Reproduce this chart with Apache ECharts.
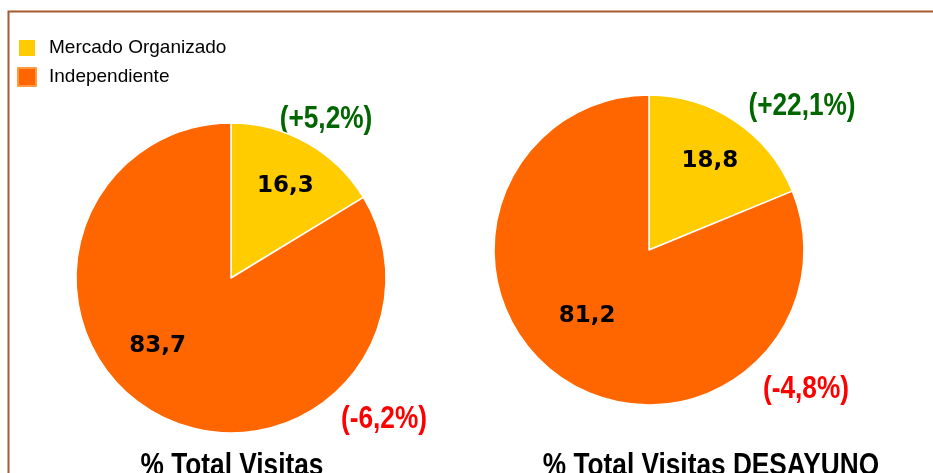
<!DOCTYPE html>
<html>
<head>
<meta charset="utf-8">
<script src="https://cdn.jsdelivr.net/npm/echarts@6/dist/echarts.min.js"></script>
<style>
  html, body { margin: 0; padding: 0; background: #fff; }
  #chart { width: 933px; height: 473px; }
</style>
</head>
<body>
<div id="chart"></div>
<script>
// datos
const categories = ['Mercado Organizado', 'Independiente'];
const totalShares = [16.3, 83.7];
const desayunoShares = [18.8, 81.2];
const totalChanges = [5.2, -6.2];
const desayunoChanges = [22.1, -4.8];
const pieTitles = ['% Total Visitas', '% Total Visitas DESAYUNO'];

const colors = ['#FFCC00', '#FF6600'];
const sans = '"Liberation Sans", Arial, sans-serif';
const chart = echarts.init(document.getElementById('chart'), null, { renderer: 'canvas' });

function fmt(v) {
  return v.toFixed(1).replace('.', ',');
}
function fmtChange(v) {
  return '(' + (v > 0 ? '+' : '') + fmt(v) + '%)';
}

// offsets de las etiquetas internas (posicion dentro de la porcion)
const labelOffsets = [
  [[15, -22], [-34, -2]],
  [[16, -22], [-17, -1]]
];

function pieSeries(values, center, idx) {
  return {
    type: 'pie',
    center: center,
    radius: 155,
    startAngle: 90,
    clockwise: true,
    silent: true,
    itemStyle: { borderColor: '#fff', borderWidth: 1.5 },
    label: {
      show: true,
      position: 'inside',
      formatter: p => fmt(p.value),
      color: '#000',
      fontFamily: 'DejaVu Sans',
      fontWeight: 'bold',
      fontSize: 23
    },
    labelLine: { show: false },
    emphasis: { disabled: true },
    data: categories.map((name, i) => ({
      name: name,
      value: values[i],
      itemStyle: { color: colors[i] },
      label: { offset: labelOffsets[idx][i] }
    }))
  };
}

// texto estrecho (tipo Arial Narrow) escalando en horizontal
function narrowText(text, x, y, color, vAlign) {
  return {
    type: 'text',
    x: x,
    y: y,
    scaleX: 0.82,
    silent: true,
    style: {
      text: text,
      fill: color,
      font: 'bold 32px ' + sans,
      textAlign: 'center',
      textVerticalAlign: vAlign
    }
  };
}

function changeText(v, x, y) {
  return narrowText(fmtChange(v), x, y, v > 0 ? '#006600' : '#FF0000', 'middle');
}

const option = {
  animation: false,
  backgroundColor: '#fff',
  color: colors,
  legend: {
    orient: 'vertical',
    left: 17,
    top: 38,
    itemWidth: 18,
    itemHeight: 18,
    itemGap: 9,
    icon: 'rect',
    selectedMode: false,
    padding: 0,
    textStyle: {
      fontFamily: sans,
      fontSize: 19,
      color: '#000',
      lineHeight: 18,
      padding: [0, 0, 0, 8]
    },
    data: [
      { name: categories[0], itemStyle: { color: colors[0] } },
      { name: categories[1], itemStyle: { color: colors[1], borderColor: '#FF9A40', borderWidth: 2 } }
    ]
  },
  graphic: [
    {
      type: 'rect',
      shape: { x: 8.5, y: 11.5, width: 960, height: 520 },
      style: { fill: 'none', stroke: '#A85A32', lineWidth: 2 },
      silent: true
    },
    changeText(totalChanges[0], 326, 119),
    changeText(totalChanges[1], 384, 419),
    changeText(desayunoChanges[0], 802, 106),
    changeText(desayunoChanges[1], 806, 389),
    narrowText(pieTitles[0], 232, 450, '#000', 'top'),
    narrowText(pieTitles[1], 711, 450, '#000', 'top')
  ],
  series: [
    pieSeries(totalShares, [231, 278], 0),
    pieSeries(desayunoShares, [649, 250], 1)
  ]
};

chart.setOption(option);
</script>
</body>
</html>
